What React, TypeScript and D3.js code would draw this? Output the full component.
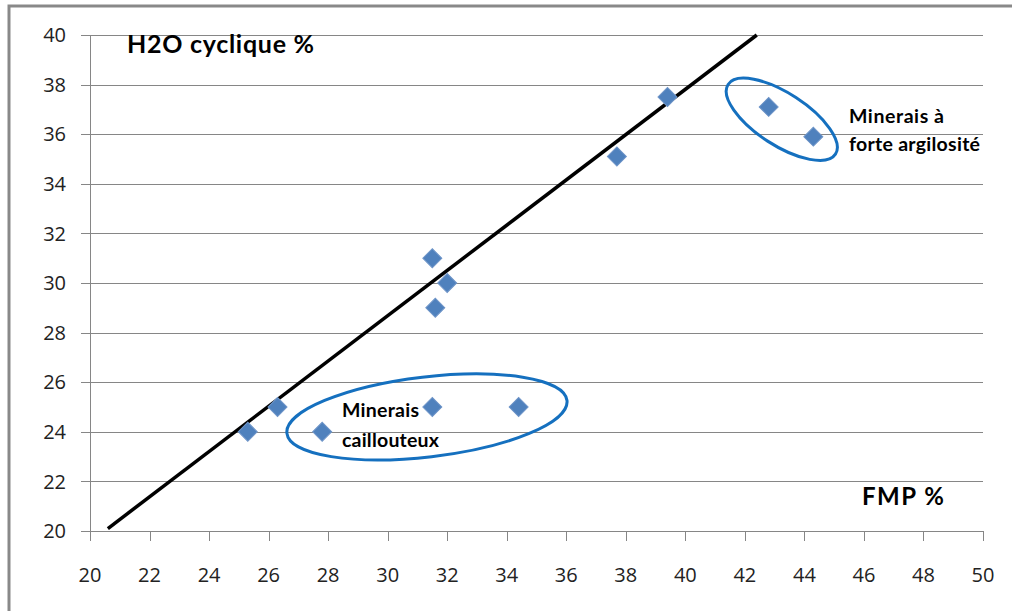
import React, { useEffect, useRef } from 'react'
import * as d3 from 'd3'

// FMP % (x) vs H2O cyclique % (y)
const fmp = [25.3, 26.3, 27.8, 31.5, 34.4, 31.5, 31.6, 32.0, 37.7, 39.4, 42.8, 44.3]
const h2o = [24.0, 25.0, 24.0, 25.0, 25.0, 31.0, 29.0, 30.0, 35.1, 37.5, 37.1, 35.9]

// trend line end points
const trendX = [20.6, 42.4]
const trendY = [20.1, 40.0]

const xTicks = [20, 22, 24, 26, 28, 30, 32, 34, 36, 38, 40, 42, 44, 46, 48, 50]
const yTicks = [20, 22, 24, 26, 28, 30, 32, 34, 36, 38, 40]

// ellipse annotations (centre in data units)
const groupNames = ['caillouteux', 'argileux']
const groupCx = [31.32, 43.24]
const groupCy = [24.6, 36.6]

const FONT = 'Lato, "Open Sans", sans-serif'
const TICK_FONT = '"Open Sans", Lato, sans-serif'

const App: React.FC = () => {
  const svgRef = useRef<SVGSVGElement>(null)

  useEffect(() => {
    if (!svgRef.current) return
    const svg = d3.select(svgRef.current)
    svg.selectAll('*').remove()

    const x = d3.scaleLinear().domain([20, 50]).range([90, 983])
    const y = d3.scaleLinear().domain([20, 40]).range([531, 35])

    // outer frame (top and left visible)
    svg.append('path')
      .attr('d', 'M9,611 L9,6 L1012,6')
      .attr('fill', 'none')
      .attr('stroke', '#898989')
      .attr('stroke-width', 3)

    // horizontal grid lines with left tick stubs
    svg.append('g')
      .selectAll('line')
      .data(yTicks)
      .enter()
      .append('line')
      .attr('x1', 81)
      .attr('x2', x(50))
      .attr('y1', d => Math.round(y(d)) + 0.5)
      .attr('y2', d => Math.round(y(d)) + 0.5)
      .attr('stroke', '#868686')
      .attr('stroke-width', 1)

    // y axis line
    svg.append('line')
      .attr('x1', x(20) + 0.5)
      .attr('x2', x(20) + 0.5)
      .attr('y1', y(40))
      .attr('y2', y(20))
      .attr('stroke', '#868686')

    // x ticks
    svg.append('g')
      .selectAll('line')
      .data(xTicks)
      .enter()
      .append('line')
      .attr('x1', d => Math.round(x(d)) + 0.5)
      .attr('x2', d => Math.round(x(d)) + 0.5)
      .attr('y1', y(20))
      .attr('y2', y(20) + 10)
      .attr('stroke', '#868686')

    // tick labels
    svg.append('g')
      .selectAll('text')
      .data(yTicks)
      .enter()
      .append('text')
      .attr('x', 66)
      .attr('y', d => y(d))
      .attr('dy', '0.36em')
      .attr('text-anchor', 'end')
      .style('font-family', TICK_FONT)
      .style('font-size', '20px')
      .style('fill', '#222')
      .text(d => d)

    svg.append('g')
      .selectAll('text')
      .data(xTicks)
      .enter()
      .append('text')
      .attr('x', d => x(d))
      .attr('y', 582)
      .attr('text-anchor', 'middle')
      .style('font-family', TICK_FONT)
      .style('font-size', '20px')
      .style('fill', '#222')
      .text(d => d)

    // trend line
    const line = d3.line<number>()
      .x(d => x(trendX[d]))
      .y(d => y(trendY[d]))
    svg.append('path')
      .datum([0, 1])
      .attr('d', line)
      .attr('stroke', '#000')
      .attr('stroke-width', 3.5)
      .attr('fill', 'none')

    // points (diamonds)
    const diamond = d3.symbol().type(d3.symbolSquare).size(180)
    svg.append('g')
      .selectAll('path')
      .data(fmp.map((v, i) => [v, h2o[i]]))
      .enter()
      .append('path')
      .attr('d', diamond)
      .attr('transform', d => `translate(${x(d[0])},${y(d[1])}) rotate(45)`)
      .attr('fill', '#4F81BD')
      .attr('stroke', '#6f95c8')
      .attr('stroke-width', 1)

    // ellipses
    const rx = [141, 64]
    const ry = [40, 26]
    const rot = [-6.7, 33]
    svg.append('g')
      .selectAll('ellipse')
      .data(groupNames)
      .enter()
      .append('ellipse')
      .attr('rx', (d, i) => rx[i])
      .attr('ry', (d, i) => ry[i])
      .attr('transform', (d, i) => `translate(${x(groupCx[i])},${y(groupCy[i])}) rotate(${rot[i]})`)
      .attr('fill', 'none')
      .attr('stroke', '#1570BF')
      .attr('stroke-width', 3)

    // texts
    const bold = (tx: number, ty: number, size: number, len: number, s: string) =>
      svg.append('text')
        .attr('x', tx)
        .attr('y', ty)
        .attr('textLength', len)
        .style('font-family', FONT)
        .style('font-weight', 'bold')
        .style('font-size', `${size}px`)
        .style('fill', '#000')
        .text(s)

    bold(127, 53, 25, 187, 'H2O cyclique %')
    bold(862, 505, 24, 82, 'FMP %')
    bold(849, 123, 19.5, 95, 'Minerais à')
    bold(849, 151, 19.5, 131, 'forte argilosité')
    bold(342, 417, 19.5, 77, 'Minerais')
    bold(342, 447, 19.5, 97, 'caillouteux')
  }, [])

  return (
    <svg
      ref={svgRef}
      width={1012}
      height={611}
      style={{ position: 'absolute', left: 0, top: 0, background: '#fff' }}
    />
  )
}

export default App
